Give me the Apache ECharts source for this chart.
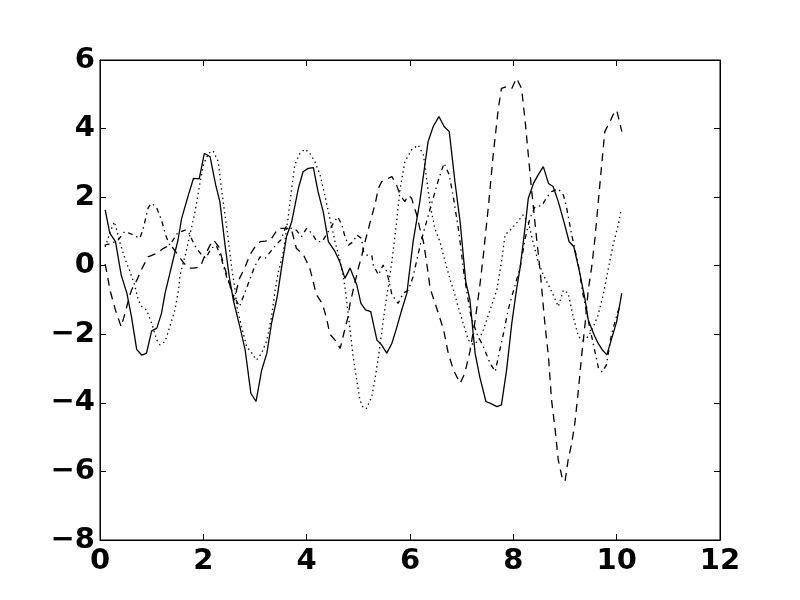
<!DOCTYPE html>
<html>
<head>
<meta charset="utf-8">
<script src="https://cdn.jsdelivr.net/npm/echarts@6/dist/echarts.min.js"></script>
<style>html,body{margin:0;padding:0;background:#fff}#c{width:800px;height:600px}</style>
</head>
<body>
<div id="c"></div>
<script>
var xTicks = [0, 2, 4, 6, 8, 10, 12];
var yTicks = [-8, -6, -4, -2, 0, 2, 4, 6];

var solid = [[0.10,1.63],[0.19,0.95],[0.30,0.70],[0.41,-0.27],[0.52,-0.80],[0.61,-1.49],[0.71,-2.44],[0.81,-2.61],[0.90,-2.55],[1.00,-1.90],[1.10,-1.82],[1.19,-1.39],[1.26,-0.80],[1.39,0.02],[1.51,0.75],[1.58,1.38],[1.71,2.06],[1.81,2.55],[1.92,2.53],[2.02,3.28],[2.13,3.18],[2.24,2.35],[2.32,1.87],[2.42,0.60],[2.50,-0.30],[2.58,-1.00],[2.61,-1.19],[2.71,-1.80],[2.81,-2.46],[2.92,-3.72],[3.02,-3.96],[3.13,-3.04],[3.23,-2.55],[3.32,-1.68],[3.43,-0.90],[3.52,0.00],[3.61,0.85],[3.71,1.28],[3.84,2.26],[3.93,2.74],[4.03,2.84],[4.13,2.86],[4.22,2.16],[4.32,1.58],[4.42,0.70],[4.55,0.41],[4.64,0.12],[4.74,-0.37],[4.84,-0.07],[4.97,-0.56],[5.05,-1.10],[5.14,-1.29],[5.24,-1.34],[5.36,-2.17],[5.45,-2.31],[5.55,-2.55],[5.65,-2.26],[5.74,-1.82],[5.84,-1.29],[5.94,-0.80],[6.06,0.70],[6.19,1.87],[6.35,3.62],[6.45,4.06],[6.56,4.35],[6.66,4.06],[6.76,3.91],[6.87,2.45],[6.97,1.28],[7.08,-0.47],[7.16,-1.00],[7.26,-2.55],[7.35,-3.24],[7.47,-3.96],[7.58,-4.03],[7.68,-4.11],[7.77,-4.06],[7.87,-3.04],[7.97,-1.68],[8.06,-0.71],[8.13,-0.07],[8.21,0.90],[8.29,1.97],[8.39,2.40],[8.48,2.65],[8.58,2.89],[8.68,2.40],[8.77,2.31],[8.87,1.87],[8.98,1.28],[9.08,0.70],[9.17,0.56],[9.28,-0.17],[9.39,-1.00],[9.45,-1.58],[9.55,-1.97],[9.64,-2.26],[9.72,-2.45],[9.81,-2.60],[10.00,-1.63],[10.10,-0.80]];

var dashed = [[0.10,0.05],[0.20,-0.75],[0.30,-1.30],[0.41,-1.78],[0.50,-1.30],[0.55,-1.00],[0.61,-0.71],[0.72,-0.40],[0.80,-0.12],[0.93,0.26],[1.10,0.36],[1.22,0.50],[1.35,0.60],[1.42,0.50],[1.61,0.10],[1.71,-0.07],[1.81,-0.07],[1.94,-0.03],[2.02,0.26],[2.13,0.60],[2.20,0.75],[2.30,0.55],[2.40,0.00],[2.50,-0.50],[2.60,-1.00],[2.69,-0.40],[2.80,-0.07],[2.90,0.31],[3.00,0.55],[3.10,0.70],[3.20,0.72],[3.30,0.75],[3.45,1.09],[3.60,1.09],[3.70,1.09],[3.80,0.51],[3.94,0.31],[4.06,-0.07],[4.19,-0.85],[4.30,-1.10],[4.38,-1.50],[4.45,-2.00],[4.55,-2.17],[4.65,-2.41],[4.72,-1.97],[4.80,-1.49],[4.84,-1.10],[4.90,-0.71],[5.00,-0.07],[5.07,0.31],[5.13,0.70],[5.23,1.28],[5.32,1.77],[5.39,2.26],[5.45,2.45],[5.58,2.55],[5.65,2.60],[5.74,2.35],[5.81,2.06],[5.90,1.87],[5.97,2.06],[6.03,1.97],[6.13,1.48],[6.19,1.09],[6.26,0.70],[6.32,0.12],[6.39,-0.66],[6.55,-1.39],[6.65,-1.87],[6.74,-2.55],[6.84,-3.04],[6.97,-3.43],[7.06,-3.14],[7.16,-2.50],[7.26,-1.60],[7.35,-0.60],[7.42,0.31],[7.52,1.77],[7.61,3.23],[7.71,4.59],[7.77,5.17],[7.87,5.22],[7.97,5.17],[8.06,5.47],[8.16,5.17],[8.23,4.20],[8.29,3.23],[8.35,2.26],[8.45,0.80],[8.52,-0.17],[8.61,-1.68],[8.68,-2.65],[8.74,-3.92],[8.81,-4.79],[8.87,-5.67],[8.94,-6.15],[9.00,-6.30],[9.06,-5.67],[9.13,-5.18],[9.19,-4.60],[9.26,-3.62],[9.32,-2.65],[9.39,-1.68],[9.45,-0.71],[9.52,0.00],[9.58,0.80],[9.64,1.80],[9.71,2.94],[9.77,3.91],[9.87,4.20],[9.93,4.40],[10.00,4.54],[10.10,3.91]];

var dotted = [[0.10,0.55],[0.20,1.00],[0.28,1.28],[0.38,0.70],[0.48,0.22],[0.58,-0.17],[0.67,-0.56],[0.74,-1.00],[0.81,-1.19],[0.90,-1.29],[1.00,-1.68],[1.10,-2.17],[1.16,-2.31],[1.26,-2.21],[1.35,-1.78],[1.45,-1.29],[1.52,-0.71],[1.55,-0.27],[1.65,0.31],[1.74,0.90],[1.84,1.58],[1.94,2.45],[2.00,2.94],[2.10,3.28],[2.19,3.35],[2.29,3.03],[2.35,2.26],[2.42,1.48],[2.48,0.80],[2.55,-0.07],[2.61,-0.66],[2.65,-1.19],[2.74,-1.78],[2.84,-2.36],[2.94,-2.55],[3.03,-2.75],[3.13,-2.55],[3.23,-2.17],[3.32,-1.49],[3.39,-0.71],[3.45,-0.20],[3.55,0.41],[3.64,1.38],[3.71,2.26],[3.77,2.94],[3.87,3.28],[3.97,3.40],[4.06,3.28],[4.16,3.03],[4.26,2.65],[4.35,2.06],[4.45,1.38],[4.55,0.70],[4.65,0.12],[4.74,-0.60],[4.84,-1.87],[4.90,-2.65],[4.97,-3.33],[5.03,-3.92],[5.10,-4.16],[5.16,-4.16],[5.26,-3.82],[5.32,-3.33],[5.39,-2.65],[5.45,-1.97],[5.52,-1.19],[5.57,-0.71],[5.65,0.12],[5.74,1.28],[5.81,2.26],[5.90,3.03],[6.03,3.38],[6.16,3.52],[6.26,3.23],[6.32,2.55],[6.39,1.77],[6.48,1.09],[6.58,0.70],[6.68,0.12],[6.77,-0.37],[6.87,-0.85],[6.93,-1.19],[7.03,-1.68],[7.13,-2.17],[7.22,-2.30],[7.32,-2.20],[7.42,-1.87],[7.55,-1.29],[7.68,-0.71],[7.77,0.12],[7.84,0.90],[7.94,1.04],[8.06,1.24],[8.19,1.48],[8.29,1.28],[8.38,0.70],[8.48,0.12],[8.58,-0.27],[8.68,-0.56],[8.77,-0.85],[8.87,-1.19],[8.97,-0.71],[9.06,-0.80],[9.16,-1.49],[9.26,-2.07],[9.35,-2.17],[9.45,-2.07],[9.55,-1.78],[9.64,-1.44],[9.74,-0.85],[9.84,-0.07],[9.93,0.60],[10.03,1.19],[10.08,1.58]];

var dashDot = [[0.09,0.60],[0.22,0.65],[0.35,0.75],[0.48,1.00],[0.64,0.90],[0.77,0.80],[0.83,1.04],[0.93,1.68],[0.99,1.82],[1.09,1.72],[1.19,1.33],[1.28,0.85],[1.35,0.60],[1.50,0.95],[1.65,1.04],[1.72,0.95],[1.83,0.60],[1.90,0.45],[1.97,0.31],[2.05,0.22],[2.15,0.50],[2.25,0.60],[2.35,0.20],[2.45,-0.32],[2.52,-0.61],[2.60,-0.90],[2.70,-1.19],[2.80,-0.80],[2.90,-0.40],[3.00,0.00],[3.10,0.26],[3.20,0.22],[3.30,0.41],[3.40,0.60],[3.50,0.75],[3.60,1.14],[3.70,1.09],[3.80,1.04],[3.90,0.85],[4.00,1.09],[4.10,0.95],[4.20,0.70],[4.30,0.70],[4.40,0.95],[4.50,1.20],[4.60,1.43],[4.68,1.20],[4.74,0.85],[4.81,0.60],[4.90,0.70],[4.97,0.90],[5.06,0.80],[5.10,0.41],[5.16,0.31],[5.26,0.31],[5.29,0.02],[5.39,-0.27],[5.45,-0.07],[5.48,0.02],[5.55,-0.17],[5.61,-0.56],[5.65,-0.85],[5.77,-1.10],[5.87,-0.80],[5.97,-0.71],[6.06,-0.32],[6.22,0.75],[6.42,1.82],[6.55,2.50],[6.66,2.99],[6.76,2.65],[6.85,1.90],[6.95,0.94],[7.05,-0.30],[7.18,-1.49],[7.30,-2.00],[7.42,-2.36],[7.55,-2.85],[7.65,-3.09],[7.71,-2.65],[7.81,-1.97],[7.90,-1.29],[7.97,-0.90],[8.13,-0.07],[8.23,0.80],[8.32,1.38],[8.42,1.72],[8.55,1.75],[8.65,2.00],[8.74,2.16],[8.87,2.24],[8.97,2.06],[9.03,1.70],[9.13,0.90],[9.26,0.00],[9.35,-0.85],[9.45,-1.60],[9.55,-2.30],[9.65,-3.00],[9.72,-3.10],[9.80,-2.90],[9.90,-2.00],[10.02,-1.35],[10.08,-1.15]];

var FONT = 'DejaVu Sans';
function fmt(v) { return v < 0 ? '\u2212' + Math.abs(v) : String(v); }
var tickStyle = { show: true, inside: true, length: 6, lineStyle: { color: '#000', width: 1 } };
var labelStyle = { color: '#000', fontFamily: FONT, fontWeight: 'bold', fontSize: 29, formatter: fmt };
var lineAxis = { show: true, onZero: false, lineStyle: { color: '#000', width: 1 } };

function mk(data, type) {
  return { type: 'line', data: data, showSymbol: false, symbol: 'none', xAxisIndex: 0, yAxisIndex: 0,
    lineStyle: { color: '#000', width: 1.3, type: type }, animation: false };
}

var chart = echarts.init(document.getElementById('c'), null, { renderer: 'canvas' });
chart.setOption({
  backgroundColor: '#fff',
  animation: false,
  grid: { left: 100, right: 80, top: 60, bottom: 60, show: true, borderColor: '#000', borderWidth: 1, backgroundColor: 'transparent' },
  xAxis: [
    { type: 'value', min: xTicks[0], max: xTicks[xTicks.length - 1], interval: 2, position: 'bottom',
      axisLine: lineAxis, axisTick: tickStyle,
      axisLabel: Object.assign({ margin: 7 }, labelStyle), splitLine: { show: false } },
    { type: 'value', min: xTicks[0], max: xTicks[xTicks.length - 1], interval: 2, position: 'top',
      axisLine: lineAxis, axisTick: tickStyle,
      axisLabel: { show: false }, splitLine: { show: false } }
  ],
  yAxis: [
    { type: 'value', min: yTicks[0], max: yTicks[yTicks.length - 1], interval: 2, position: 'left',
      axisLine: lineAxis, axisTick: tickStyle,
      axisLabel: Object.assign({ margin: 5 }, labelStyle), splitLine: { show: false } },
    { type: 'value', min: yTicks[0], max: yTicks[yTicks.length - 1], interval: 2, position: 'right',
      axisLine: lineAxis, axisTick: tickStyle,
      axisLabel: { show: false }, splitLine: { show: false } }
  ],
  series: [
    mk(solid, 'solid'),
    mk(dashed, [8, 6]),
    mk(dotted, [1.4, 3.4]),
    mk(dashDot, [5, 4, 1.4, 4])
  ]
});
</script>
</body>
</html>
